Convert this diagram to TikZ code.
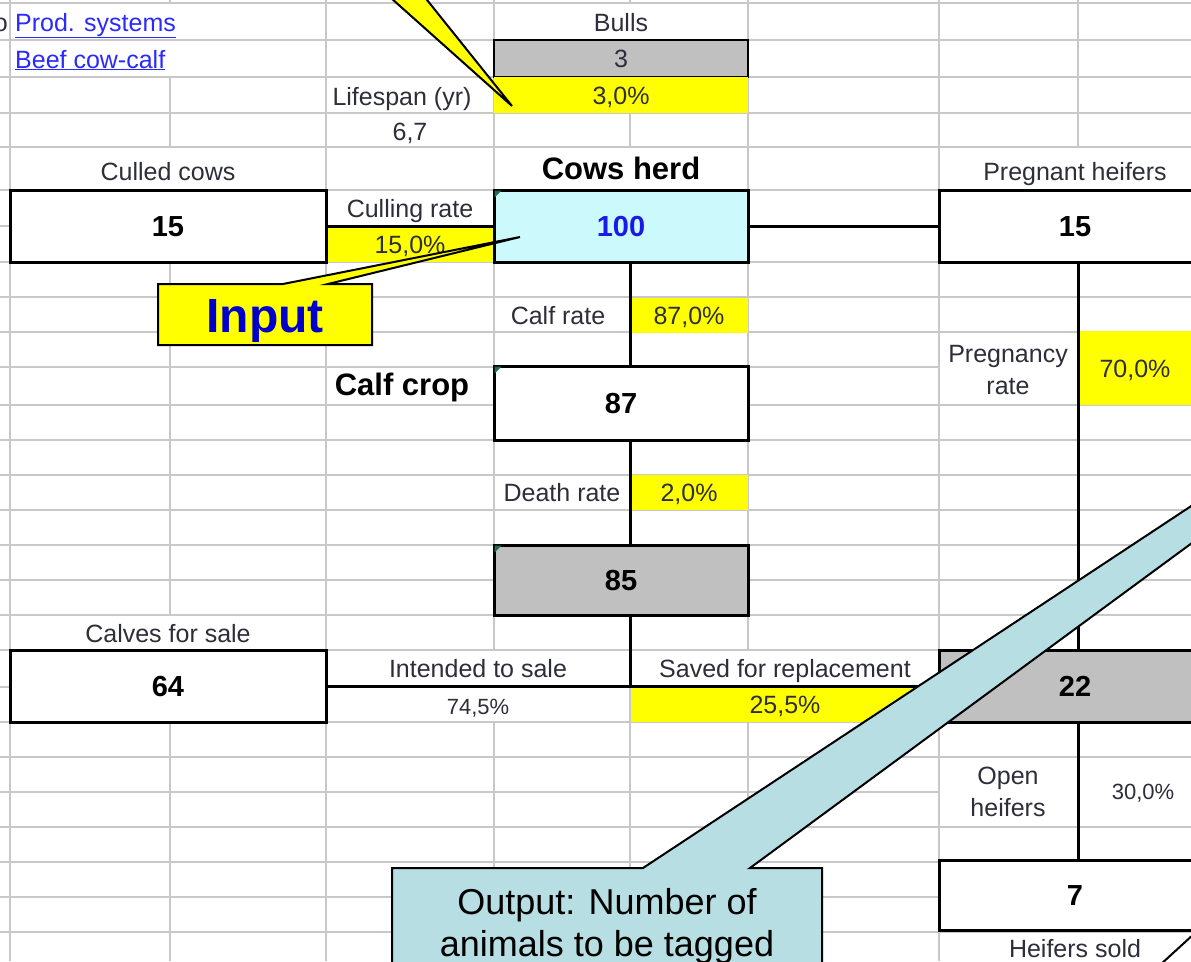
\documentclass[tikz,border=0pt]{standalone}
\usepackage{fontspec}
\setmainfont{Liberation Sans}
\usetikzlibrary{calc}
\definecolor{cellyel}{HTML}{FFFF00}
\definecolor{boxgray}{HTML}{C0C0C0}
\definecolor{herdcyan}{HTML}{CCFAFC}
\definecolor{herdblue}{HTML}{1A1AE6}
\definecolor{callteal}{HTML}{B7DEE2}
\definecolor{linkblue}{HTML}{2A2AFF}
\definecolor{gridc}{HTML}{C8C8C8}
\definecolor{labc}{HTML}{2E2E3A}
\definecolor{markgreen}{HTML}{1F6F4F}

\begin{document}
\begin{tikzpicture}[
  x=1pt, y=-1pt,
  txt/.style={font=\fontsize{25}{32}\selectfont, text=labc, inner sep=0pt,
              text height=18pt, text depth=0pt},
  smallval/.style={txt, font=\fontsize{22}{26}\selectfont, text height=16pt},
  ttl/.style={font=\fontsize{31}{36}\selectfont\bfseries, inner sep=0pt,
              text height=22pt, text depth=0pt},
  box/.style={draw, line width=3pt, fill=white, minimum height=72pt, inner sep=0pt,
              font=\fontsize{29}{34}\selectfont\bfseries, text height=21pt, text depth=0pt},
  herd/.style={box, fill=herdcyan, text=herdblue},
  total/.style={box, fill=boxgray},
  rate/.style={txt, fill=cellyel, minimum height=36pt},
  link/.style={txt, text=linkblue, anchor=west},
  conn/.style={line width=3pt},
  gridline/.style={gridc, line width=1.2pt},
  callout/.style={draw, line width=2pt, line join=miter}
]
\useasboundingbox (0,0) rectangle (1191,961);
\clip (0,0) rectangle (1191,961);
\fill[white] (0,0) rectangle (1191,961);

% sheet grid
\foreach \x in {10,170,326,494,630,748,939,1078}
  \draw[gridline] (\x,0) -- (\x,961);
\foreach \y in {3,40,77,113,147,190,226,262,297,332,367,405,440,475,510,545,580,
                615,650,687,722,757,792,827,862,897,932}
  \draw[gridline] (0,\y) -- (1191,\y);
% merged cells
\foreach \a/\b/\c/\d in {494/3/748/40, 494/147/748/190, 10/147/326/190,
    939/147/1211/190, 10/615/326/650, 939/932/1211/970, 326/650/630/687,
    326/687/630/722, 630/650/939/687, 939/332/1078/405, 939/757/1078/827,
    1078/757/1211/827, 10/3/326/40, 10/40/326/77}
  \fill[white] (\a+0.8,\b+0.8) rectangle (\c-0.8,\d-0.8);

\coordinate (midcol) at (630,0);
\coordinate (rgtcol) at (1078,0);

% links
\node[txt, anchor=east] (prev) at (8,22) {o};
\node[link] (prodlink) at (15,22) {\underline{Prod. systems}};
\node[link] (beeflink) at (15,59) {\underline{Beef cow-calf}};

% bulls
\node[txt] (bullslbl) at (621,22) {Bulls};
\node[box, fill=boxgray, line width=2pt, minimum width=254pt, minimum height=37pt,
      font=\fontsize{25}{30}\selectfont, text=labc, text height=18pt] (bulls) at (621,58) {3};
\node[rate, minimum width=254pt] (bullrate) at (621,95) {3,0\%};
\node[txt] (lifelbl) at (402,96) {Lifespan (yr)};
\node[txt] (lifeval) at (410,131) {6,7};

% herd row
\node[txt] (culledlbl) at (168,171) {Culled cows};
\node[ttl] (herdlbl) at (621,168) {Cows herd};
\node[txt] (preglbl) at (1075,171) {Pregnant heifers};
\node[txt, text depth=5pt] (cullratelbl) at (410,211) {Culling rate};
\node[rate, minimum width=168pt] (cullrate) at (410,244) {15,0\%};
\node[box, minimum width=316pt] (culled) at (168,226) {15};
\node[herd, minimum width=254pt] (herdbox) at (621,226) {100};
\node[box, minimum width=272pt] (preg) at (1075,226) {15};

% calf crop
\node[txt] (calfratelbl) at (558,315) {Calf rate};
\node[rate, minimum width=118pt, minimum height=35pt] (calfrate) at (689,315) {87,0\%};
\node[ttl, text depth=6pt] (calfcroplbl) at (402,387) {Calf crop};
\node[box, minimum width=254pt, minimum height=74pt] (calfcrop) at (621,403) {87};
\node[txt] (deathratelbl) at (562,492) {Death rate};
\node[rate, minimum width=118pt, minimum height=35pt] (deathrate) at (689,492) {2,0\%};
\node[total, minimum width=254pt, minimum height=70pt] (weaned) at (621,580) {85};

% pregnancy
\node[txt, align=center, text height=, text depth=] (pregratelbl) at (1008,370) {Pregnancy\\rate};
\node[rate, minimum width=114pt, minimum height=74pt] (pregrate) at (1135,368) {70,0\%};

% sale / replacement
\node[txt] (calveslbl) at (168,633) {Calves for sale};
\node[txt] (intendlbl) at (478,668) {Intended to sale};
\node[smallval] (intendval) at (478,706) {74,5\%};
\node[txt] (savedlbl) at (785,668) {Saved for replacement};
\node[rate, minimum width=309pt, minimum height=35pt] (savedrate) at (785,704) {25,5\%};
\node[box, minimum width=316pt] (calves) at (168,686) {64};
\node[total, minimum width=272pt] (repl) at (1075,686) {22};

% open heifers
\node[txt, align=center, text height=, text depth=] (openlbl) at (1008,792) {Open\\heifers};
\node[smallval] (openval) at (1143,791) {30,0\%};
\node[box, minimum width=272pt, minimum height=70pt] (sold) at (1075,895) {7};
\node[txt] (soldlbl) at (1075,948) {Heifers sold};

% connectors
\draw[conn] (culled.east) -- (herdbox.west);
\draw[conn] (herdbox.east) -- (preg.west);
\draw[conn] (herdbox.south -| midcol) -- (calfcrop.north -| midcol);
\draw[conn] (calfcrop.south -| midcol) -- (weaned.north -| midcol);
\draw[conn] (weaned.south -| midcol) -- (calves.east -| midcol);
\draw[conn] (calves.east) -- (repl.west);
\draw[conn] (preg.south -| rgtcol) -- (repl.north -| rgtcol);
\draw[conn] (repl.south -| rgtcol) -- (sold.north -| rgtcol);

% comment marks
\foreach \n in {herdbox, calfcrop, weaned}
  \fill[markgreen] ($(\n.north west)+(2,2)$) -- ++(7,0) -- ++(-7,7) -- cycle;

% callouts
\draw[callout, fill=cellyel] (382,-10) -- (512,106) -- (419,-10) -- cycle;
\draw[callout, fill=cellyel] (158,345) -- (158,284) -- (283,284) -- (520,237)
  -- (328,284) -- (372,284) -- (372,345) -- cycle;
\node[font=\fontsize{48}{56}\selectfont\bfseries, text=blue!80!black, inner sep=0pt,
      text height=34pt, text depth=0pt] (inputlbl) at (265,315) {Input};
\draw[callout, fill=callteal] (392,990) -- (392,868) -- (643,868) -- (1691,176)
  -- (750,868) -- (822,868) -- (822,990) -- cycle;
\node[font=\fontsize{36}{42}\selectfont, align=center, inner sep=0pt] (outputlbl)
  at (607,926) {Output: Number of\\animals to be tagged};
\draw[callout] (1160,965) -- (1195,933);
\end{tikzpicture}
\end{document}
